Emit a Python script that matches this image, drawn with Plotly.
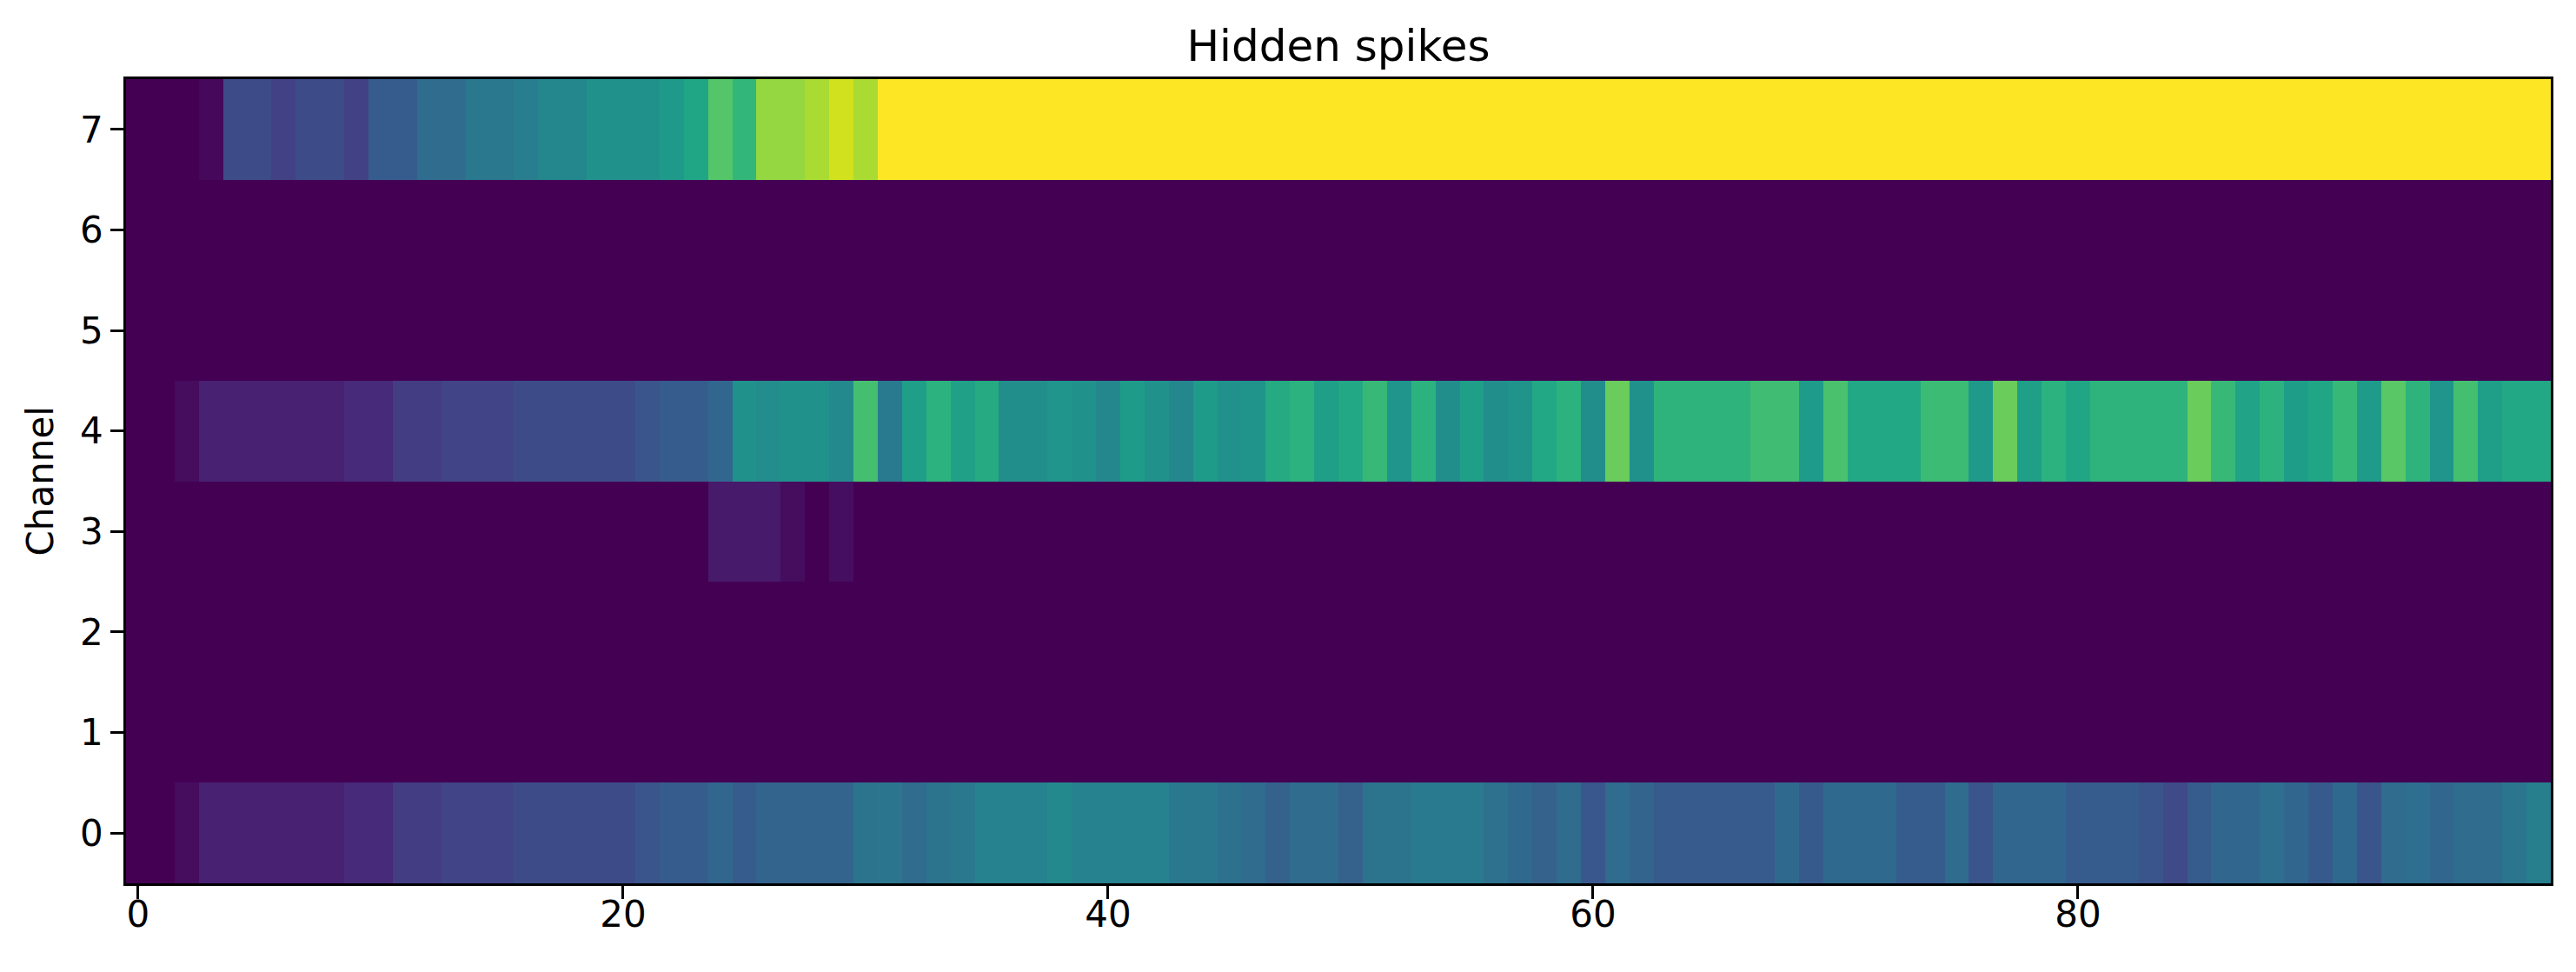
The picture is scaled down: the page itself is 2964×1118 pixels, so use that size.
import plotly.graph_objects as go

# ---------------- data ----------------
time_steps = list(range(100))
channels = list(range(8))

ch0 = [0, 0, 0.03, 0.09, 0.09, 0.09, 0.09, 0.09, 0.09, 0.12,
       0.12, 0.18, 0.18, 0.20, 0.20, 0.20, 0.23, 0.23, 0.23, 0.23,
       0.23, 0.26, 0.29, 0.29, 0.33, 0.29, 0.32, 0.32, 0.32, 0.32,
       0.38, 0.39, 0.35, 0.38, 0.40, 0.44, 0.44, 0.44, 0.47, 0.44,
       0.44, 0.44, 0.44, 0.40, 0.40, 0.37, 0.35, 0.31, 0.35, 0.35,
       0.31, 0.38, 0.38, 0.41, 0.41, 0.41, 0.37, 0.34, 0.31, 0.35,
       0.27, 0.35, 0.32, 0.285, 0.285, 0.285, 0.285, 0.285, 0.34, 0.28,
       0.34, 0.34, 0.34, 0.29, 0.29, 0.35, 0.26, 0.33, 0.33, 0.33,
       0.29, 0.29, 0.29, 0.26, 0.22, 0.29, 0.33, 0.33, 0.36, 0.33,
       0.28, 0.34, 0.26, 0.35, 0.36, 0.33, 0.35, 0.35, 0.39, 0.43]

ch1 = [0, 0, 0, 0, 0, 0, 0, 0, 0, 0,
       0, 0, 0, 0, 0, 0, 0, 0, 0, 0,
       0, 0, 0, 0, 0, 0, 0, 0, 0, 0,
       0, 0, 0, 0, 0, 0, 0, 0, 0, 0,
       0, 0, 0, 0, 0, 0, 0, 0, 0, 0,
       0, 0, 0, 0, 0, 0, 0, 0, 0, 0,
       0, 0, 0, 0, 0, 0, 0, 0, 0, 0,
       0, 0, 0, 0, 0, 0, 0, 0, 0, 0,
       0, 0, 0, 0, 0, 0, 0, 0, 0, 0,
       0, 0, 0, 0, 0, 0, 0, 0, 0, 0]

ch2 = list(ch1)

ch3 = [0, 0, 0, 0, 0, 0, 0, 0, 0, 0,
       0, 0, 0, 0, 0, 0, 0, 0, 0, 0,
       0, 0, 0, 0, 0.07, 0.07, 0.07, 0.03, 0, 0.035,
       0, 0, 0, 0, 0, 0, 0, 0, 0, 0,
       0, 0, 0, 0, 0, 0, 0, 0, 0, 0,
       0, 0, 0, 0, 0, 0, 0, 0, 0, 0,
       0, 0, 0, 0, 0, 0, 0, 0, 0, 0,
       0, 0, 0, 0, 0, 0, 0, 0, 0, 0,
       0, 0, 0, 0, 0, 0, 0, 0, 0, 0,
       0, 0, 0, 0, 0, 0, 0, 0, 0, 0]

ch4 = [0, 0, 0.03, 0.09, 0.09, 0.09, 0.09, 0.09, 0.09, 0.12,
       0.12, 0.18, 0.18, 0.20, 0.20, 0.20, 0.23, 0.23, 0.23, 0.23,
       0.23, 0.26, 0.29, 0.29, 0.33, 0.50, 0.48, 0.50, 0.50, 0.47,
       0.70, 0.41, 0.56, 0.64, 0.57, 0.61, 0.49, 0.49, 0.52, 0.50,
       0.46, 0.55, 0.50, 0.46, 0.55, 0.50, 0.51, 0.61, 0.64, 0.56,
       0.60, 0.67, 0.52, 0.64, 0.49, 0.56, 0.49, 0.51, 0.60, 0.64,
       0.49, 0.77, 0.50, 0.645, 0.645, 0.645, 0.645, 0.69, 0.69, 0.55,
       0.71, 0.60, 0.60, 0.60, 0.68, 0.68, 0.54, 0.77, 0.56, 0.64,
       0.59, 0.645, 0.645, 0.645, 0.645, 0.77, 0.67, 0.58, 0.64, 0.555,
       0.59, 0.67, 0.55, 0.74, 0.645, 0.52, 0.70, 0.56, 0.60, 0.60]

ch5 = list(ch1)
ch6 = list(ch1)

ch7 = [0, 0, 0, 0.02, 0.23, 0.23, 0.19, 0.23, 0.23, 0.19,
       0.29, 0.29, 0.35, 0.35, 0.40, 0.40, 0.42, 0.46, 0.46, 0.50,
       0.50, 0.50, 0.54, 0.59, 0.73, 0.66, 0.84, 0.84, 0.87, 0.93,
       0.87, 1, 1, 1, 1, 1, 1, 1, 1, 1,
       1, 1, 1, 1, 1, 1, 1, 1, 1, 1,
       1, 1, 1, 1, 1, 1, 1, 1, 1, 1,
       1, 1, 1, 1, 1, 1, 1, 1, 1, 1,
       1, 1, 1, 1, 1, 1, 1, 1, 1, 1,
       1, 1, 1, 1, 1, 1, 1, 1, 1, 1,
       1, 1, 1, 1, 1, 1, 1, 1, 1, 1]

z = [ch0, ch1, ch2, ch3, ch4, ch5, ch6, ch7]

x_tickvals = [0, 20, 40, 60, 80]
y_tickvals = [0, 1, 2, 3, 4, 5, 6, 7]

# matplotlib viridis sampled every 0.05
viridis_hex = ["#440154", "#471365", "#482475", "#46337f", "#414487", "#3b528b",
               "#355f8d", "#2f6c8e", "#2a788e", "#25848e", "#21918c", "#1e9c89",
               "#22a884", "#2fb47c", "#44bf70", "#5ec962", "#7ad151", "#9bd93c",
               "#bddf26", "#dfe318", "#fde725"]
colorscale = [[i / 20, c] for i, c in enumerate(viridis_hex)]

W, H = 2964, 1118
L, R, T, B = 145, 2935, 91, 1016

FONT = "DejaVu Sans"
LW = 3.3

fig = go.Figure(go.Heatmap(
    z=z, x=time_steps, y=channels,
    colorscale=colorscale, zmin=0, zmax=1, showscale=False,
    hoverinfo="skip",
))

fig.update_layout(
    width=W, height=H,
    margin=dict(l=L, r=W - R, t=T, b=H - B, pad=0),
    paper_bgcolor="white", plot_bgcolor="white",
    font=dict(family=FONT, size=42, color="black"),
    title=dict(text="Hidden spikes", x=0.5, xref="paper",
               y=1 - 52 / H, yref="container", yanchor="middle",
               xanchor="center",
               font=dict(family=FONT, size=50, color="black")),
    showlegend=False,
    annotations=[dict(
        text="Channel", textangle=-90,
        xref="paper", yref="paper",
        x=(46 - L) / (R - L), y=0.5,
        xanchor="center", yanchor="middle", showarrow=False,
        font=dict(family=FONT, size=42, color="black"),
    )],
)

fig.update_xaxes(
    range=[-0.5, 99.5], tickmode="array", tickvals=x_tickvals,
    ticktext=[str(v) for v in x_tickvals],
    showline=True, mirror=True, linecolor="black", linewidth=LW,
    ticks="outside", ticklen=14.6, tickwidth=LW, tickcolor="black",
    showgrid=False, zeroline=False, ticklabelstandoff=-18,
    tickfont=dict(family=FONT, size=42, color="black"),
)
fig.update_yaxes(
    range=[-0.5, 7.5], tickmode="array", tickvals=y_tickvals,
    ticktext=[str(v) for v in y_tickvals],
    showline=True, mirror=True, linecolor="black", linewidth=LW,
    ticks="outside", ticklen=14.6, tickwidth=LW, tickcolor="black",
    showgrid=False, zeroline=False, ticklabelstandoff=0,
    tickfont=dict(family=FONT, size=42, color="black"),
)

fig.write_html("out.html")
